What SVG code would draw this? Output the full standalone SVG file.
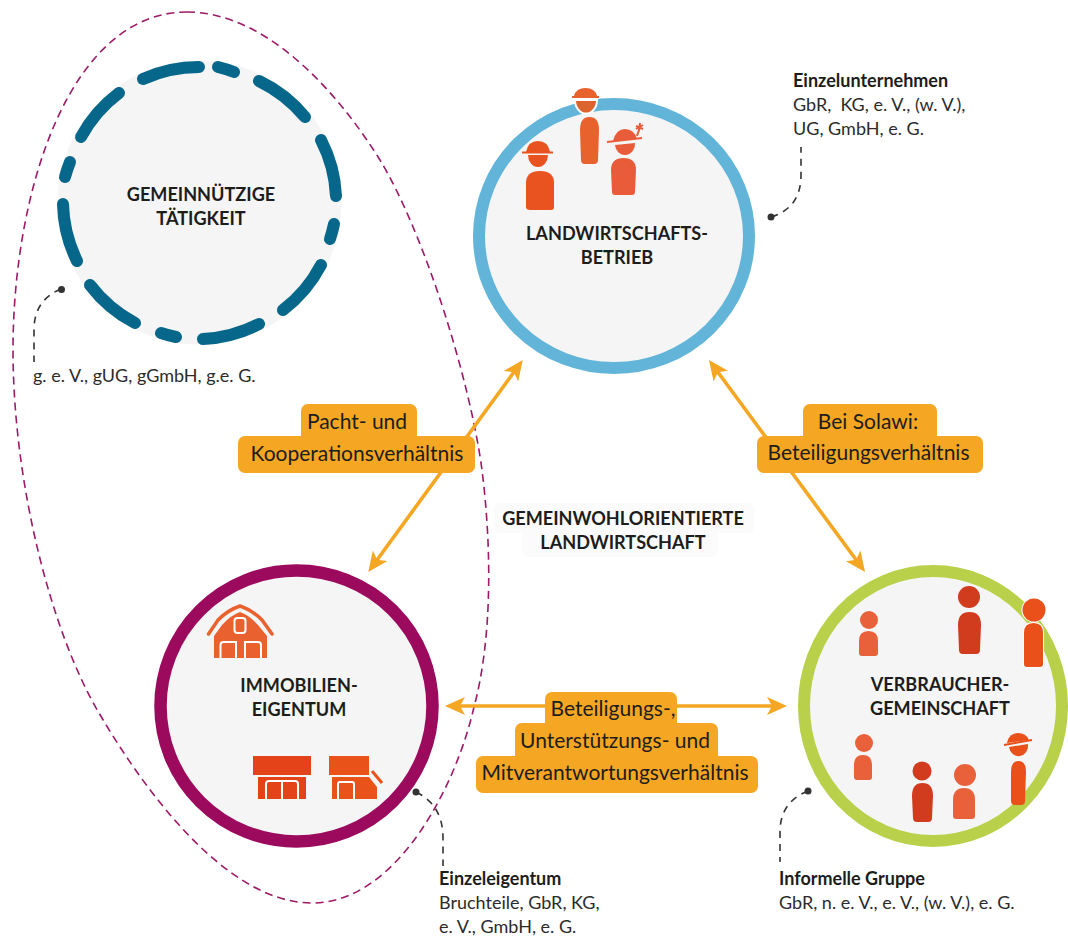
<svg xmlns="http://www.w3.org/2000/svg" width="1068" height="938" viewBox="0 0 1068 938">
<style>
text{font-family:Lato,"Carlito","Liberation Sans",sans-serif;fill:#1d1d1b}
.t{font-weight:700;font-size:18.1px;text-anchor:middle}
.n{font-size:18px;fill:#2b2b2b}
.nb{font-size:18px;font-weight:700;fill:#1d1d1b}
.l{font-size:21px;text-anchor:middle}
.box{fill:#f5a623}
.arrow{fill:none;stroke:#f5a623;stroke-width:3.6;marker-start:url(#ah);marker-end:url(#ah)}
.lead{fill:none;stroke:#333;stroke-width:1.6;stroke-dasharray:7 6}
.dot{fill:#333}
.disc{fill:#f5f5f5}
.tl{fill:none;stroke:#07678a;stroke-width:12;stroke-linecap:round}
.wl{fill:none;stroke:#fff;stroke-width:2}
</style>
<defs>
<marker id="ah" markerUnits="userSpaceOnUse" viewBox="0 0 20 18" markerWidth="20" markerHeight="18" refX="12" refY="9" orient="auto-start-reverse">
<path d="M20,9 L0,0 L5,9 L0,18 Z" fill="#f5a623"/>
</marker>
</defs>
<rect width="1068" height="938" fill="#fff"/>
<path id="gruppe" d="M187,12 C260,12 330,80 380,160 C425,235 470,380 482,470 C492,550 492,640 474,707 C455,790 395,903 312,903 C230,903 150,800 99,713 C50,630 13,480 13,350 C13,190 70,12 187,12 Z" fill="none" stroke="#9c1a66" stroke-width="1.6" stroke-dasharray="8 5"/>
<g id="gemeinnuetzig">
<circle class="disc" cx="199.5" cy="202.5" r="142"/>
<g class="tl">
<path d="M143,79 A136,136 0 0 1 199,67"/>
<path d="M218,67 A136,136 0 0 1 234,72"/>
<path d="M259,81 A136,136 0 0 1 305,117"/>
<path d="M321,140 A136,136 0 0 1 336,196"/>
<path d="M334,224 A136,136 0 0 1 330,239"/>
<path d="M321,265 A136,136 0 0 1 283,310"/>
<path d="M259,324 A136,136 0 0 1 203,339"/>
<path d="M176,337 A136,136 0 0 1 161,333"/>
<path d="M135,323 A136,136 0 0 1 90,285"/>
<path d="M77,261 A136,136 0 0 1 63,204"/>
<path d="M65,177 A136,136 0 0 1 70,162"/>
<path d="M81,137 A136,136 0 0 1 119,93"/>
</g>
<text class="t" x="201" y="201">GEMEINNÜTZIGE</text>
<text class="t" x="201" y="225">TÄTIGKEIT</text>
</g>
<g id="landwirtschaft">
<ellipse cx="614" cy="236" rx="135" ry="132" fill="#f5f5f5" stroke="#62b5d9" stroke-width="12"/>
<g id="p1" fill="#e9531f">
<path d="M538,141 Q528,141 526,152 H550 Q548,141 538,141 Z"/>
<path d="M522,152.500 H553" stroke="#e9531f" stroke-width="2"/>
<path d="M528,155 A10,12 0 0 0 548,155 Z"/>
<path d="M526,183 Q526,171 540,171 Q554,171 554,183 L554,207 Q554,210 551,210 L530,210 Q526,210 526,207 Z"/>
</g>
<g id="p2" fill="#e8622e">
<path d="M585.500,88 Q576,88 574,96 H597 Q595,88 585.500,88 Z"/>
<path d="M572,97 H599" stroke="#e8622e" stroke-width="2"/>
<path d="M575,100 A10.500,13 0 0 0 597,100 Z" fill="#dc642f" stroke="#fff" stroke-width="2"/>
<path d="M580,130 Q580,117 589.500,117 Q599,117 599,130 L598,160 Q598,164 594,164 L585,164 Q581,164 581,160 Z"/>
</g>
<g id="p3" fill="#e95c3a">
<path d="M625,129 Q616,129 613,141 L637,139 Q634,129 625,129 Z"/>
<path d="M607,142 L642,138" stroke="#e95c3a" stroke-width="2"/>
<path d="M615,145 A10,11 0 0 0 635,143 Z"/>
<path d="M611,170 Q611,158 623.500,158 Q636,158 636,170 L635,192 Q635,195 632,195 L615,195 Q612,195 612,192 Z"/>
<path d="M639,131 L640,123 M636,126 L643,129 M636,129 L643,125 M637,136 L639,130" stroke="#e95c3a" stroke-width="2"/>
</g>
<text class="t" x="617" y="240">LANDWIRTSCHAFTS-</text>
<text class="t" x="617" y="264">BETRIEB</text>
</g>
<g id="immobilien">
<ellipse cx="296.500" cy="706" rx="136" ry="135.500" fill="#f5f5f5" stroke="#9c0a5e" stroke-width="12.500"/>
<g id="scheune">
<path d="M208.500,634 L218,620 Q228,610 240,606 Q252,610 262,620 L272,634" fill="none" stroke="#e8612f" stroke-width="3.500" stroke-linecap="round"/>
<path d="M214,658 V636 L222,625 Q231,615 240,612 Q249,615 258,625 L267,636 V658 Z" fill="#e8612f"/>
<rect x="234.500" y="618" width="11" height="15" rx="3" fill="#e8612f" stroke="#fff" stroke-width="2"/>
<path class="wl" d="M220.500,658 V645 Q220.500,642 223.500,642 H236 V658 M245,658 V642 H258 Q261,642 261,645 V658"/>
</g>
<g id="laden1">
<rect x="253" y="756" width="58" height="19" fill="#e4431a"/>
<rect x="258" y="777" width="48" height="22" fill="#e4431a"/>
<path class="wl" d="M266,799 V784 Q266,781 269,781 H295 Q298,781 298,784 V799 M282,799 V782"/>
</g>
<g id="laden2">
<rect x="329" y="756" width="40" height="19" fill="#e9531a"/>
<path d="M332,777 H369 L377,787 V799 H332 Z" fill="#e9531a"/>
<path class="wl" d="M338,799 V784 Q338,782 340,782 H352 Q354,782 354,784 V799"/>
<path d="M372,771 L382,783" stroke="#e9531a" stroke-width="3" fill="none"/>
</g>
<text class="t" x="299" y="692">IMMOBILIEN-</text>
<text class="t" x="299" y="716">EIGENTUM</text>
</g>
<g id="verbraucher">
<ellipse cx="933" cy="706" rx="129" ry="135" fill="#f5f5f5" stroke="#b9d04a" stroke-width="12"/>
<g fill="#e8613a"><circle cx="869" cy="620" r="9"/><path d="M859,641 Q859,631 868.500,631 Q878,631 878,641 V653 Q878,656 875,656 H862 Q859,656 859,653 Z"/></g>
<g fill="#d13b1e"><circle cx="969" cy="597" r="11"/><path d="M958,625 Q958,612 969.500,612 Q981,612 981,625 L980,650 Q980,654 976,654 H963 Q959,654 959,650 Z"/></g>
<g fill="#e9501a" stroke="#fff" stroke-width="2" paint-order="stroke"><circle cx="1034" cy="610" r="11.500"/><path d="M1024,633 Q1024,623 1033.500,623 Q1043,623 1043,633 V664 Q1043,667 1040,667 H1027 Q1024,667 1024,664 Z"/></g>
<g fill="#e8613a"><circle cx="864" cy="743" r="9"/><path d="M854,765 Q854,755 863,755 Q872,755 872,765 V777 Q872,780 869,780 H857 Q854,780 854,777 Z"/></g>
<g fill="#d13b1e"><circle cx="922" cy="771" r="9.500"/><path d="M912,796 Q912,783 922.500,783 Q933,783 933,796 L932,818 Q932,822 928,822 H917 Q913,822 913,818 Z"/></g>
<g fill="#e8613a"><circle cx="965" cy="775" r="11"/><path d="M953,800 Q953,788 964,788 Q975,788 975,800 V816 Q975,819 972,819 H956 Q953,819 953,816 Z"/></g>
<g fill="#e9501a">
<path d="M1018,733 Q1009,733 1007,743 L1029,740 Q1026,733 1018,733 Z"/>
<path d="M1004,745 L1032,740" stroke="#e9501a" stroke-width="2"/>
<path d="M1009,747 A9,10 0 0 0 1028,744 Z"/>
<path d="M1011,772 Q1011,761 1018.500,761 Q1026,761 1026,772 L1025,801 Q1025,805 1021,805 H1015 Q1011,805 1011,801 Z"/>
</g>
<text class="t" x="940" y="691">VERBRAUCHER-</text>
<text class="t" x="940" y="715">GEMEINSCHAFT</text>
</g>
<g id="connectors">
<line class="arrow" x1="373" y1="565.500" x2="518" y2="366.500"/>
<line class="arrow" x1="713.700" y1="366.500" x2="860.300" y2="565.500"/>
<line class="arrow" x1="453" y1="706" x2="779" y2="706"/>
<path class="lead" d="M61,289 Q34,300 34,330 V362"/>
<circle class="dot" cx="61.500" cy="289.500" r="3.500"/>
<path class="lead" d="M771,217 Q801,208 801,175 V147"/>
<circle class="dot" cx="771" cy="217" r="3.500"/>
<path class="lead" d="M416,792 Q443,805 443,838 V866"/>
<circle class="dot" cx="416" cy="792" r="3.500"/>
<path class="lead" d="M808,791 Q780,802 780,832 V862"/>
<circle class="dot" cx="808" cy="791" r="3.500"/>
</g>
<g id="label-pacht">
<rect class="box" x="301" y="404" width="116" height="40" rx="7"/>
<rect class="box" x="238" y="436" width="237" height="37" rx="7"/>
<text class="l" x="357" y="429">Pacht- und</text>
<text class="l" x="357" y="461">Kooperationsverhältnis</text>
</g>
<g id="label-solawi">
<rect class="box" x="803" y="404" width="134" height="40" rx="7"/>
<rect class="box" x="757" y="436" width="226" height="37" rx="7"/>
<text class="l" x="868" y="429">Bei Solawi:</text>
<text class="l" x="868.500" y="460">Beteiligungsverhältnis</text>
</g>
<g id="label-beteiligung">
<rect class="box" x="545" y="692" width="132" height="40" rx="7"/>
<rect class="box" x="515" y="723" width="203" height="40" rx="7"/>
<rect class="box" x="476" y="756" width="282" height="37" rx="7"/>
<text class="l" x="613" y="716">Beteiligungs-,</text>
<text class="l" x="615" y="748">Unterstützungs- und</text>
<text class="l" x="615" y="780">Mitverantwortungsverhältnis</text>
</g>
<g id="zentrum">
<rect x="494" y="503" width="260" height="30" rx="6" fill="#fbfbfb"/>
<rect x="522" y="531" width="196" height="26" rx="6" fill="#fbfbfb"/>
<text class="t" x="623" y="525">GEMEINWOHLORIENTIERTE</text>
<text class="t" x="623" y="549">LANDWIRTSCHAFT</text>
</g>
<g id="notes">
<text class="nb" x="793" y="87">Einzelunternehmen</text>
<text class="n" x="793" y="111">GbR,&#160; KG, e. V., (w. V.),</text>
<text class="n" x="793" y="135">UG, GmbH, e. G.</text>
<text class="n" x="33" y="382">g. e. V., gUG, gGmbH, g.e. G.</text>
<text class="nb" x="439" y="885">Einzeleigentum</text>
<text class="n" x="439" y="909">Bruchteile, GbR, KG,</text>
<text class="n" x="439" y="933">e. V., GmbH, e. G.</text>
<text class="nb" x="779" y="885">Informelle Gruppe</text>
<text class="n" x="779" y="909">GbR, n. e. V., e. V., (w. V.), e. G.</text>
</g>
</svg>
